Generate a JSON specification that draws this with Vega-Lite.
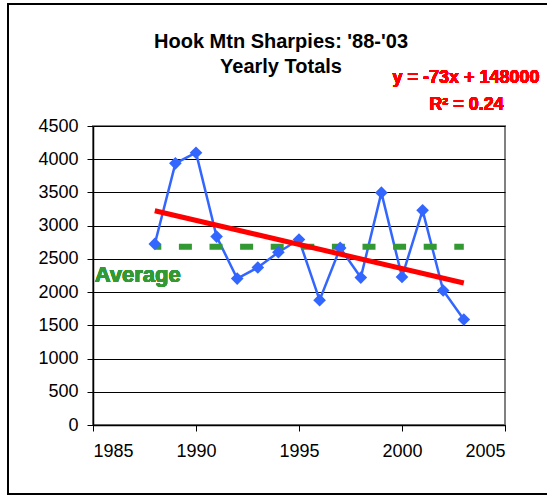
{
  "$schema": "https://vega.github.io/schema/vega-lite/v6.json",
  "width": 412,
  "height": 299,
  "autosize": {"type": "none"},
  "padding": {"left": 93, "top": 126, "right": 42, "bottom": 70},
  "background": "white",
  "title": {
    "text": ["Hook Mtn Sharpies: '88-'03", "Yearly Totals"],
    "font": "Liberation Sans",
    "fontSize": 20,
    "fontWeight": "bold",
    "color": "black",
    "lineHeight": 25,
    "anchor": "middle",
    "frame": "group",
    "dx": -18,
    "offset": -74
  },
  "config": {
    "font": "Liberation Sans",
    "numberFormat": "d",
    "view": {"stroke": "#808080", "strokeWidth": 2},
    "axis": {
      "labelFont": "Liberation Sans",
      "labelFontSize": 18,
      "labelColor": "black",
      "labelOverlap": false,
      "domainColor": "black",
      "domainWidth": 1.5,
      "tickColor": "black",
      "tickSize": 6,
      "tickWidth": 1,
      "title": null
    },
    "axisX": {"tickCount": 4, "grid": false, "labelPadding": 11},
    "axisY": {"tickCount": 9, "grid": true, "gridColor": "black", "gridOpacity": 1, "gridWidth": 1, "labelPadding": 9}
  },
  "data": {
    "values": [
      {"year": 1988, "count": 2725},
      {"year": 1989, "count": 3938},
      {"year": 1990, "count": 4098},
      {"year": 1991, "count": 2836},
      {"year": 1992, "count": 2204},
      {"year": 1993, "count": 2370},
      {"year": 1994, "count": 2600},
      {"year": 1995, "count": 2791},
      {"year": 1996, "count": 1879},
      {"year": 1997, "count": 2665},
      {"year": 1998, "count": 2219},
      {"year": 1999, "count": 3497},
      {"year": 2000, "count": 2229},
      {"year": 2001, "count": 3231},
      {"year": 2002, "count": 2024},
      {"year": 2003, "count": 1588}
    ]
  },
  "layer": [
    {
      "mark": {"type": "line", "color": "#3366FF", "strokeWidth": 2.5},
      "encoding": {
        "x": {"field": "year", "type": "quantitative", "scale": {"domain": [1985, 2005], "nice": false}},
        "y": {"field": "count", "type": "quantitative", "scale": {"domain": [0, 4500], "nice": false}}
      }
    },
    {
      "mark": {"type": "rule", "color": "#339933", "strokeWidth": 6, "strokeDash": [13, 17.6], "strokeDashOffset": 6.5, "strokeCap": "butt"},
      "encoding": {
        "x": {"datum": 1988, "type": "quantitative"},
        "x2": {"datum": 2003},
        "y": {"aggregate": "mean", "field": "count", "type": "quantitative"}
      }
    },
    {
      "mark": {"type": "point", "shape": "diamond", "filled": true, "size": 160, "color": "#3366FF", "opacity": 1},
      "encoding": {
        "x": {"field": "year", "type": "quantitative"},
        "y": {"field": "count", "type": "quantitative"}
      }
    },
    {
      "transform": [{"regression": "count", "on": "year", "extent": [1988, 2003]}],
      "mark": {"type": "line", "color": "#FF0000", "strokeWidth": 5},
      "encoding": {
        "x": {"field": "year", "type": "quantitative"},
        "y": {"field": "count", "type": "quantitative"}
      }
    },
    {
      "mark": {"type": "text", "text": "Average", "font": "Liberation Sans", "fontSize": 22, "fontWeight": "bold", "color": "#339933", "align": "left", "baseline": "alphabetic", "clip": false},
      "encoding": {
        "x": {"datum": 1985.08, "type": "quantitative"},
        "y": {"datum": 2155, "type": "quantitative"}
      }
    },
    {
      "mark": {"type": "text", "text": "y = -73x + 148000", "font": "Liberation Sans", "fontSize": 18, "fontWeight": "bold", "color": "#FF0000", "align": "right", "baseline": "alphabetic", "clip": false},
      "encoding": {
        "x": {"datum": 2006.68, "type": "quantitative"},
        "y": {"datum": 5142, "type": "quantitative"}
      }
    },
    {
      "mark": {"type": "text", "text": "R² = 0.24", "font": "Liberation Sans", "fontSize": 18, "fontWeight": "bold", "color": "#FF0000", "align": "center", "baseline": "alphabetic", "clip": false},
      "encoding": {
        "x": {"datum": 2003.13, "type": "quantitative"},
        "y": {"datum": 4736, "type": "quantitative"}
      }
    },
    {
      "mark": {"type": "rect", "fill": null, "stroke": "black", "strokeWidth": 1.5, "clip": false},
      "encoding": {
        "x": {"datum": 1980.87, "type": "quantitative"},
        "x2": {"datum": 2010},
        "y": {"datum": 6340, "type": "quantitative"},
        "y2": {"datum": -1037}
      }
    }
  ]
}
